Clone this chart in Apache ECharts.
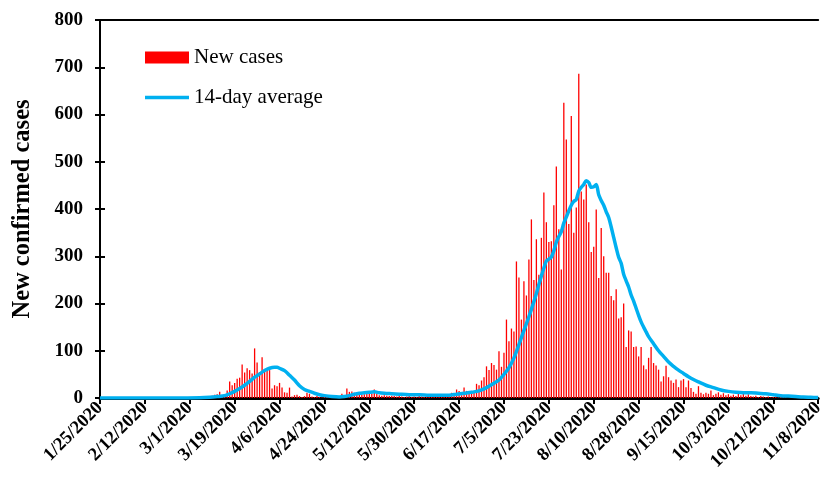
<!DOCTYPE html>
<html>
<head>
<meta charset="utf-8">
<script src="https://cdn.jsdelivr.net/npm/echarts@6/dist/echarts.min.js"></script>
<style>html,body{margin:0;padding:0;background:#fff;}#c{width:827px;height:484px;}</style>
</head>
<body>
<div id="c"></div>
<script>
// Tick labels every 18 days starting 1/25/2020 (day index 0)
var tickLabels = ['1/25/2020','2/12/2020','3/1/2020','3/19/2020','4/6/2020','4/24/2020','5/12/2020','5/30/2020','6/17/2020','7/5/2020','7/23/2020','8/10/2020','8/28/2020','9/15/2020','10/3/2020','10/21/2020','11/8/2020'];

// Daily new cases, day 0 = 1/25/2020 ... day 288 = 11/8/2020
var newCases = [
0,0,0,0,0,0,0,0,0,0,
0,0,0,0,0,0,0,0,0,0,
0,0,0,0,0,0,0,0,0,0,
0,0,0,0,0,0,0,0,1,0,
1,2,1,3,2,5,7,8,13,2,
3,16,35,27,32,41,43,71,54,63,
59,52,105,75,55,86,55,60,59,20,
27,25,32,22,12,11,22,3,6,7,
4,2,4,11,9,3,2,4,2,1,
3,2,1,2,3,1,4,9,6,20,
13,14,11,12,9,7,8,15,10,9,
18,9,6,5,6,5,4,5,4,3,
4,3,2,3,4,2,3,2,4,3,
2,3,2,4,3,2,3,4,5,3,
8,11,4,18,15,6,22,15,13,15,
15,30,27,37,44,67,59,74,70,60,
99,66,96,166,120,147,141,289,255,166,
247,217,293,378,250,336,261,339,435,372,
330,332,408,490,357,272,625,547,368,597,
350,403,686,437,420,452,372,309,320,399,
254,360,300,265,265,216,207,230,168,171,
200,108,143,141,108,109,88,108,69,61,
85,108,74,69,60,35,46,68,44,37,
32,39,23,37,40,23,37,21,13,9,
25,11,8,11,9,16,6,9,12,7,
10,6,8,5,7,4,10,6,12,5,
8,4,3,5,2,4,3,2,3,1,
2,3,1,2,1,1,0,1,0,1,
0,0,1,0,0,0,0,0,0
];

// 14-day average at selected days
var avgDays = [0,10,20,30,40,44,47,50,52,54,56,58,60,62,64,66,68,70,71,72,74,76,78,80,82,84,86,88,90,93,96,98,100,102,104,106,108,110,112,114,117,120,124,128,132,136,140,143,146,149,152,155,158,160,162,164,166,168,170,172,174,175,176,177,178,179,180,181,182,183,184,185,186,187,188,189,190,191,192,193,194,195,196,197,198,199,200,201,202,203,204,205,206,207,208,209,210,211,212,213,214,215,216,217,218,219,220,222,224,226,228,230,232,234,236,238,240,243,246,249,252,255,258,261,264,267,270,273,276,279,282,285,288];
var avgValues = [0,0,0,0,0.5,1.5,3,5,9,14,20,27,35,44,51,58,63,65,65,63,58,48,38,26,18,14,10,7,5,3,2,3,5,8,10,11,12,13,11,10,9,8,7,7,6,6,6,8,10,12,15,22,31,38,50,64,85,113,143,172,204,221,240,258,275,290,294,298,312,330,342,352,370,383,396,408,416,420,438,446,452,460,456,446,447,452,430,418,408,394,382,362,340,318,298,285,262,248,235,218,205,190,175,161,150,140,130,115,100,88,76,67,59,52,45,39,34,27,22,17,14,12,11,11,10,9,7,5,4,3,2,1.5,1];

var barData = newCases.map(function(v,i){return [i,v];});
var lineData = avgDays.map(function(d,i){return [d,avgValues[i]];});

var FONT = '"Liberation Serif","Times New Roman",serif';
var chart = echarts.init(document.getElementById('c'), null, {renderer:'canvas'});
chart.setOption({
  animation:false,
  backgroundColor:'#fff',
  grid:{left:100,top:20,right:4,bottom:86,containLabel:false},
  legend:{
    orient:'vertical', left:140, top:42, itemGap:19,
    itemWidth:44, itemHeight:12,
    textStyle:{fontFamily:FONT,fontSize:21,color:'#000'},
    data:[
      {name:'New cases', icon:'rect'},
      {name:'14-day average', icon:'path://M0,0 L44,0 L44,3.5 L0,3.5 Z'}
    ]
  },
  xAxis:[{
    type:'value', min:0, max:288, interval:18,
    axisLine:{show:true,onZero:false,lineStyle:{color:'#000',width:3}},
    axisTick:{show:true,length:6,lineStyle:{color:'#000',width:2}},
    splitLine:{show:false},
    axisLabel:{
      rotate:45, margin:7, fontFamily:FONT, fontWeight:'bold', fontSize:18.5, color:'#000',
      formatter:function(v){var k=Math.round(v/18);return tickLabels[k]||'';}
    }
  },{
    type:'value', min:0, max:288, position:'top',
    axisLine:{show:true,onZero:false,lineStyle:{color:'#000',width:2}},
    axisTick:{show:false}, axisLabel:{show:false}, splitLine:{show:false}
  }],
  yAxis:[{
    type:'value', min:0, max:800, interval:100,
    name:'New confirmed cases', nameLocation:'middle', nameGap:65,
    nameTextStyle:{fontFamily:FONT,fontWeight:'bold',fontSize:24.5,color:'#000'},
    axisLine:{show:true,onZero:false,lineStyle:{color:'#000',width:2}},
    axisTick:{show:true,length:5,lineStyle:{color:'#000',width:2}},
    splitLine:{show:false},
    axisLabel:{margin:17,fontFamily:FONT,fontWeight:'bold',fontSize:19,color:'#000'}
  },{
    type:'value', min:0, max:800, interval:100, position:'left',
    axisLine:{show:false},
    axisTick:{show:true,inside:true,length:5,lineStyle:{color:'#000',width:2}},
    axisLabel:{show:false}, splitLine:{show:false}
  }],
  series:[{
    name:'New cases', type:'bar', data:barData, barWidth:1.3,
    itemStyle:{color:'#FF0000'}, z:2
  },{
    name:'14-day average', type:'line', data:lineData, symbol:'none', smooth:0.3,
    lineStyle:{color:'#00B0F0',width:3.5}, itemStyle:{color:'#00B0F0'}, z:3
  }]
});
</script>
</body>
</html>
